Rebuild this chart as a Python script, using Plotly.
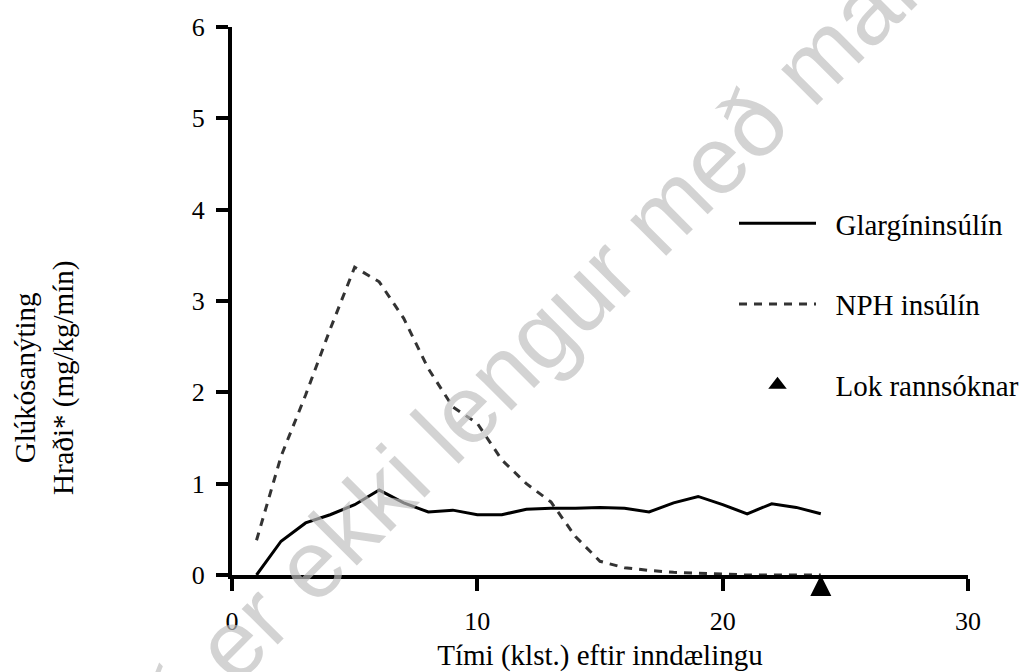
import plotly.graph_objects as go

# ---- data ----
hours = list(range(1, 25))
glargine = [0.00, 0.37, 0.57, 0.66, 0.77, 0.93, 0.79, 0.69, 0.71, 0.66, 0.66, 0.72,
            0.73, 0.73, 0.74, 0.73, 0.69, 0.79, 0.86, 0.77, 0.67, 0.78, 0.74, 0.67]
nph = [0.38, 1.30, 1.97, 2.69, 3.37, 3.21, 2.81, 2.26, 1.84, 1.66, 1.26, 1.00,
       0.80, 0.42, 0.15, 0.08, 0.05, 0.03, 0.02, 0.01, 0.00, 0.00, 0.00, 0.00]
study_end_x = [24]
study_end_y = [0]
x_ticks = [0, 10, 20, 30]
y_ticks = [0, 1, 2, 3, 4, 5, 6]
names = ["Glargíninsúlín", "NPH insúlín", "Lok rannsóknar"]

SERIF = "Liberation Serif, Times New Roman, serif"
W, H = 1022, 672
L, R, T, B = 232, 54, 27, 97

fig = go.Figure()
fig.add_trace(go.Scatter(x=hours, y=glargine, mode="lines", name="\u00a0\u00a0" + names[0],
                         legendgroup="a", line=dict(color="black", width=3)))
fig.add_trace(go.Scatter(x=hours, y=nph, mode="lines", name="\u00a0\u00a0" + names[1],
                         legendgroup="b", line=dict(color="#333333", width=3, dash="8px,7px")))
fig.add_trace(go.Scatter(x=study_end_x, y=study_end_y, mode="markers", showlegend=False,
                         cliponaxis=False,
                         marker=dict(symbol="arrow-up", size=21, color="black", line=dict(width=0))))
fig.add_trace(go.Scatter(x=[None], y=[None], mode="markers", name="\u00a0\u00a0" + names[2],
                         legendgroup="c",
                         marker=dict(symbol="triangle-up", size=20, color="black", line=dict(width=0))))

fig.update_layout(
    width=W, height=H,
    margin=dict(l=L, r=R, t=T, b=B, autoexpand=False),
    paper_bgcolor="white", plot_bgcolor="white",
    font=dict(family=SERIF, size=29, color="black"),
    showlegend=True,
    legend=dict(x=(734 - L) / (W - L - R), y=(H - B - 198) / (H - T - B),
                xanchor="left", yanchor="top", itemwidth=77, tracegroupgap=40,
                bgcolor="rgba(0,0,0,0)", font=dict(family=SERIF, size=29, color="black")),
    xaxis=dict(range=[0, 30], tickvals=x_ticks, showline=True, linecolor="black", linewidth=4,
               ticks="outside", ticklen=12, tickwidth=4, tickcolor="black",
               showgrid=False, zeroline=False, ticklabelstandoff=8,
               tickfont=dict(family=SERIF, size=26, color="black"),
               title=dict(text="Tími (klst.) eftir inndælingu", standoff=12,
                          font=dict(family=SERIF, size=29, color="black"))),
    yaxis=dict(range=[0, 6], tickvals=y_ticks, showline=True, linecolor="black", linewidth=4,
               ticks="outside", ticklen=12, tickwidth=4, tickcolor="black",
               showgrid=False, zeroline=False, ticklabelstandoff=6,
               tickfont=dict(family=SERIF, size=26, color="black")),
)

# y-axis title (two lines)
fig.add_annotation(xref="paper", yref="paper", x=(44 - L) / (W - L - R), y=(H - B - 378) / (H - T - B),
                   text="Glúkósanýting<br>Hraði* (mg/kg/mín)", showarrow=False, textangle=-90,
                   xanchor="center", yanchor="middle",
                   font=dict(family=SERIF, size=29, color="black"))

# watermark
fig.add_annotation(xref="paper", yref="paper", x=(610 - L) / (W - L - R), y=(H - B - 264) / (H - T - B),
                   text="Lyfið er ekki lengur með markaðsleyfi", showarrow=False, textangle=-45,
                   xanchor="center", yanchor="middle",
                   font=dict(family="Liberation Sans, Arial, sans-serif", size=96,
                             color="rgba(190,190,190,0.68)"))

fig.write_html("out.html",
               config={"displayModeBar": False},
               post_script="document.body.style.margin='0px';document.body.style.overflow='hidden';")
